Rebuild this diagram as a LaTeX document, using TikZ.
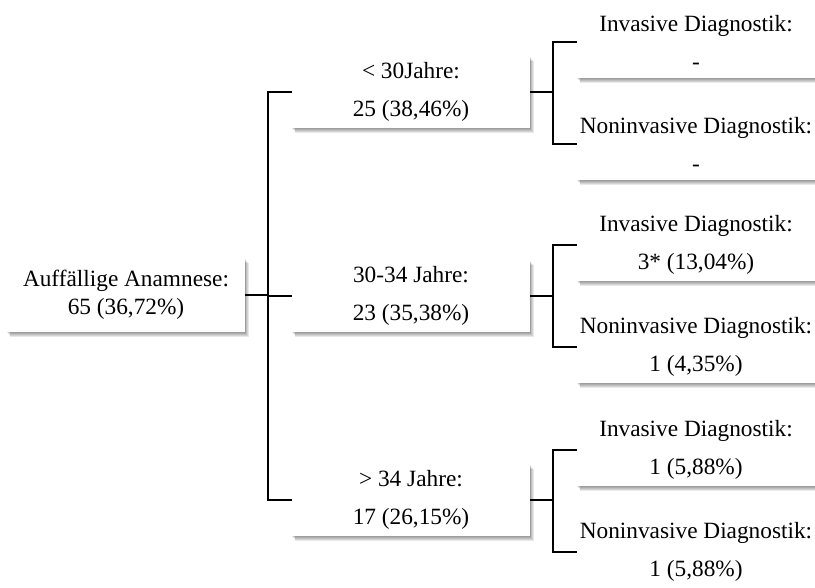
\documentclass[tikz,border=0pt]{standalone}
\usepackage{fontspec}
\setmainfont{Liberation Serif}[Ligatures=CommonOff]
\usetikzlibrary{backgrounds}
\tikzset{
  box/.style={fill=white, minimum width=238pt, minimum height=72pt,
    inner sep=0pt, align=center,
    font=\fontsize{23.3}{38}\selectfont},
  rootbox/.style={box, minimum height=74pt, font=\fontsize{23.3}{28}\selectfont},
  link/.style={draw=black, line width=1.2pt},
  shade layer/.style={fill=black, opacity=.09}
}
% soft shadow behind a named box, offset to the lower right
\newcommand\boxshadow[1]{%
  \foreach \dx/\dy in {0.5/1, 1.2/2, 2/3, 2.8/4, 3.5/5}{
    \fill[shade layer] ([shift={(\dx,\dy)}]#1.north west)
      rectangle ([shift={(\dx,\dy)}]#1.south east);
  }}
\begin{document}
\begin{tikzpicture}[x=1pt, y=-1pt]
\useasboundingbox (0,0) rectangle (815,588);

% root
\node[rootbox] (root) at (126,295) {Auffällige Anamnese:\\65 (36,72\%)};

% age groups
\node[box] (m1) at (411,92)  {< 30Jahre:\\25 (38,46\%)};
\node[box] (m2) at (411,296) {30-34 Jahre:\\23 (35,38\%)};
\node[box] (m3) at (411,500) {> 34 Jahre:\\17 (26,15\%)};

% diagnostics
\node[box] (r1) at (696,42)  {Invasive Diagnostik:\\-};
\node[box] (r2) at (696,144) {Noninvasive Diagnostik:\\-};
\node[box] (r3) at (696,245) {Invasive Diagnostik:\\3* (13,04\%)};
\node[box] (r4) at (696,347) {Noninvasive Diagnostik:\\1 (4,35\%)};
\node[box] (r5) at (696,450) {Invasive Diagnostik:\\1 (5,88\%)};
\node[box] (r6) at (696,552) {Noninvasive Diagnostik:\\1 (5,88\%)};

% shadows under the boxes
\begin{scope}[on background layer]
  \fill[white] (0,0) rectangle (815,588);
  \foreach \n in {root,m1,m2,m3,r1,r2,r3,r4,r5,r6}{\boxshadow{\n}}
\end{scope}

% junction columns
\coordinate (j0) at (268,296);
\coordinate (j1) at (553,92);

% root to age groups
\draw[link] (root.east) -- (root.east -| j0);
\draw[link] (m1.west) -- (m1.west -| j0) -- (m3.west -| j0) -- (m3.west);
\draw[link] (m2.west) -- (m2.west -| j0);

% age groups to diagnostics
\foreach \m/\a/\b in {m1/r1/r2, m2/r3/r4, m3/r5/r6}{
  \draw[link] (\m.east) -- (\m.east -| j1);
  \draw[link] (\a.west) -- (\a.west -| j1) -- (\b.west -| j1) -- (\b.west);
}
\end{tikzpicture}
\end{document}
